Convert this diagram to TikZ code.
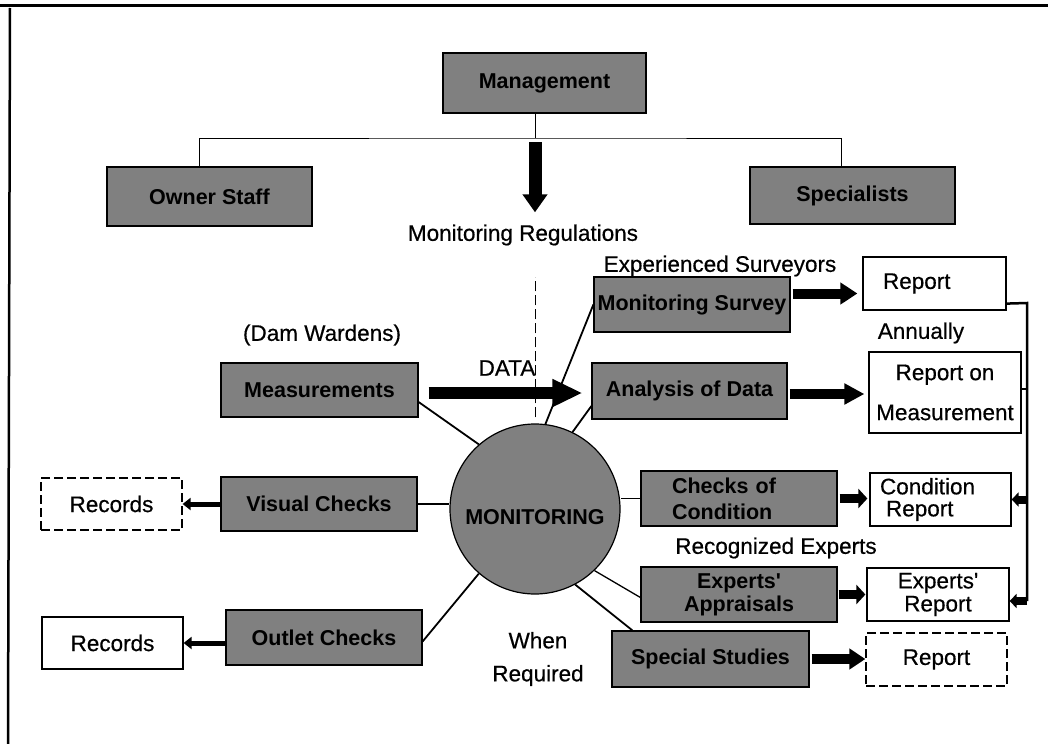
\documentclass[tikz,border=0pt]{standalone}
\usepackage{fontspec}
\setmainfont{Liberation Sans}
\newfontfamily\labelfont{Liberation Sans}[FakeBold=0.5]
\usetikzlibrary{arrows.meta}

\begin{document}
\begin{tikzpicture}[x=1pt, y=-1pt,
        font=\labelfont\fontsize{22.5}{27}\selectfont,
        shaded/.style={draw, line width=1.2pt, fill=black!50, inner sep=0pt,
            minimum width=196pt, minimum height=55pt,
            font=\normalfont\fontsize{21.5}{26}\selectfont\bfseries},
        core/.style={shaded, circle, minimum size=170pt},
        outbox/.style={draw, line width=1.2pt, fill=white, inner sep=0pt,
            minimum width=142pt, minimum height=53pt},
        dashbox/.style={outbox, dash pattern=on 9pt off 4pt},
        tag/.style={inner sep=0pt},
        link/.style={line width=1.8pt},
        tree/.style={line width=1pt},
        fat/.style={line width=10pt, -{Triangle[length=17pt, width=21pt]}},
        stub/.style={line width=9pt, -{Triangle[length=9pt, width=19pt]}},
        backarrow/.style={line width=5pt, -{Triangle[length=8pt, width=12pt]}},
        railarrow/.style={line width=8pt, -{Triangle[length=7pt, width=14pt]}}
    ]
        \useasboundingbox (0,0) rectangle (1053,744);
        \draw[line width=3pt] (0,5) -- (1048,5);
        \draw[line width=2.5pt] (10,8) -- (8,744);

        \node[shaded, minimum width=203pt, minimum height=60pt] (mgmt) at (544.5,83) {Management};
        \node[shaded, minimum width=205pt, minimum height=59pt] (owner) at (209.5,196.5) {Owner Staff};
        \node[shaded, minimum width=205pt, minimum height=57pt] (spec) at (852.5,195.5) {Specialists};
        \node[tag] (regs) at (523,235) {Monitoring Regulations};
        \coordinate (hub) at (535,138);

        \node[tag] (surveyors) at (720,266) {Experienced Surveyors};
        \node[shaded] (survey) at (692,304.5) {Monitoring Survey};
        \node[outbox, minimum width=143pt, text width=103pt, inner xsep=20pt, align=left] (report) at (934.5,283.5) {Report};
        \node[tag] (annual) at (921,333) {Annually};
        \node[tag] (wardens) at (322,335) {(Dam Wardens)};
        \node[shaded, minimum width=197pt, minimum height=54pt] (meas) at (319.5,390) {Measurements};
        \node[tag] (data) at (507,368) {DATA};
        \node[shaded, minimum width=195pt, minimum height=56pt] (anal) at (689.5,391) {Analysis of Data};
        \node[outbox, minimum width=152pt, minimum height=81pt, align=center] (repmeas) at (945,392.5) {Report on\\[13pt]Measurement};

        \node[core] (mon) at (535,509) {\smash{\raisebox{-15pt}{MONITORING}}};
        \node[shaded, minimum height=54pt] (visual) at (319,504) {Visual Checks};
        \node[dashbox, minimum width=141pt, minimum height=52pt] (rec1) at (111.5,504) {Records};
        \node[shaded] (outlet) at (324,637.5) {Outlet Checks};
        \node[outbox, minimum width=141pt, minimum height=52pt] (rec2) at (112.5,643) {Records};
        \node[shaded, text width=134pt, inner xsep=31pt, align=left] (checks) at (739,498.5) {Checks of\\Condition};
        \node[outbox, minimum width=141pt, text width=121pt, inner xsep=10pt, align=left] (condrep) at (940.5,499.5) {Condition\\[-5pt]\hspace*{6pt}Report};
        \node[tag] (experts) at (776,548) {Recognized Experts};
        \node[shaded, align=center] (apprais) at (739,594.5) {Experts\textquotesingle\\[-3pt]Appraisals};
        \node[outbox, align=center] (exprep) at (938,594.5) {Experts'\\[-4pt]Report};
        \node[shaded, minimum width=197pt, minimum height=56pt] (special) at (710.5,659) {Special Studies};
        \node[dashbox, minimum width=141pt] (report3) at (936.5,659.5) {Report};
        \node[tag, align=center] (when) at (538,659) {When\\[6pt]Required};

        \draw[tree] (hub |- mgmt.south) -- (hub);
        \draw[tree] ([xshift=-10pt]owner.north) |- (hub) -| ([xshift=-11pt]spec.north);
        \draw[fat, line width=13pt, -{Triangle[length=18pt, width=24pt]}] ([yshift=-4pt]hub) -- ([yshift=12pt]hub |- regs.north);

        \draw[line width=1pt, dash pattern=on 10pt off 4pt] ([yshift=6pt]mon.north) -- ++(0,-140);
        \draw[link] ([yshift=-12pt]meas.east) -- (mon.131);
        \draw[link] (mon.83) -- (survey.west);
        \draw[link] (mon.64) -- ([yshift=-15pt]anal.west);
        \draw[link] (visual.east) -- (mon.west |- visual.east);
        \draw[link] (checks.west) -- (mon.east |- checks.west);
        \draw[link] ([yshift=-4pt]outlet.east) -- (mon.229);
        \draw[link, line width=1.3pt] ([yshift=-3pt]apprais.west) -- (mon.314);
        \draw[link] ([xshift=21pt]special.north west) -- (mon.298);

        \draw[fat, line width=12pt, -{Triangle[length=30pt, width=26pt]}, shorten <=10pt, shorten >=9pt] ([yshift=-3pt]meas.east) -- ([yshift=-3pt]meas.east -| anal.west);
        \draw[fat, shorten <=2pt, shorten >=5pt] ([yshift=11pt]survey.east) -- ([yshift=11pt]survey.east -| report.west);
        \draw[fat, -{Triangle[length=20pt, width=20pt]}, shorten <=2pt, shorten >=4pt] ([yshift=-3pt]anal.east) -- ([yshift=-3pt]anal.east -| repmeas.west);
        \draw[stub, shorten <=2pt, shorten >=2pt] (checks.east) -- (checks.east -| condrep.west);
        \draw[stub, shorten <=1pt, shorten >=1pt] (apprais.east) -- (apprais.east -| exprep.west);
        \draw[fat, -{Triangle[length=16pt, width=20pt]}, shorten <=2pt] (special.east) -- (special.east -| report3.west);
        \draw[backarrow] (visual.west) -- (visual.west -| rec1.east);
        \draw[backarrow] (rec2.east -| outlet.west) -- (rec2.east);

        \coordinate (rail) at (1027,303);
        \draw[line width=2.5pt] ([yshift=7pt]report.south east) -- (rail) -- ([yshift=-6.5pt]exprep.east -| rail);
        \draw[line width=2pt] ([yshift=3.5pt]repmeas.east) -- ([yshift=3.5pt]repmeas.east -| rail);
        \draw[railarrow] (condrep.east -| rail) -- (condrep.east);
        \draw[railarrow] ([yshift=-6.5pt]exprep.east -| rail) -- ([yshift=-6.5pt]exprep.east);
    \end{tikzpicture}
\end{document}
